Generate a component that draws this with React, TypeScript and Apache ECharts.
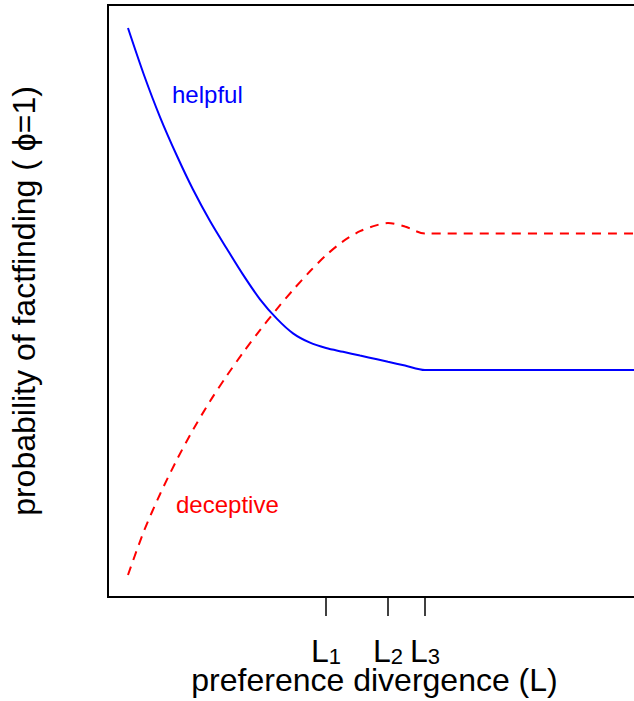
import React, { useEffect, useRef } from "react";
import * as echarts from "echarts";

// Preference divergence L (axis runs 0..100)
const divergence = [3.75, 6.75, 9.76, 12.95, 15.95, 19.14, 22.33, 25.33, 28.52, 31.71, 34.71, 37.9, 40.9, 44.09, 47.28, 50.47, 52.53, 55.72, 59.47, 100];
// Probability of fact-finding for the helpful (solid blue) curve
const helpful = [0.9611, 0.8818, 0.8108, 0.7449, 0.6883, 0.6351, 0.5878, 0.5446, 0.5029, 0.4698, 0.4454, 0.4296, 0.4206, 0.4142, 0.4078, 0.4015, 0.3973, 0.3909, 0.3834, 0.3834];
// Probability of fact-finding for the deceptive (dashed red) curve
const deceptive = [0.0372, 0.1115, 0.1736, 0.2324, 0.2824, 0.3307, 0.3743, 0.4127, 0.4508, 0.4867, 0.5186, 0.5502, 0.5772, 0.6007, 0.6179, 0.6282, 0.6318, 0.6258, 0.614, 0.614];
// Threshold ticks L1, L2, L3
const thresholdValues = [40.9, 52.53, 59.47];
const thresholdSubscripts = ["1", "2", "3"];
const seriesNames = ["helpful", "deceptive"];
const xTitle = "preference divergence (L)";
const yTitle = "probability of factfinding ( \u03d5=1)";

const FONT = "'Liberation Sans', Arial, Helvetica, sans-serif";

export default function App() {
  const ref = useRef<HTMLDivElement>(null);
  useEffect(() => {
    const chart = echarts.init(ref.current!, null, { renderer: "svg" });
    const helpfulData = divergence.map((x, i) => [x, helpful[i]]);
    const deceptiveData = divergence.map((x, i) => [x, deceptive[i]]);
    chart.setOption({
      animation: false,
      grid: {
        left: 108,
        top: 5,
        width: 533,
        height: 592,
        show: true,
        borderColor: "#000",
        borderWidth: 2,
        backgroundColor: "transparent",
        containLabel: false,
        outerBoundsMode: "none",
      },
      xAxis: {
        type: "value",
        min: 0,
        max: 100,
        axisLine: { show: false },
        splitLine: { show: false },
        axisTick: {
          show: true,
          customValues: thresholdValues,
          length: 19,
          lineStyle: { color: "#000", width: 1.5 },
        },
        axisLabel: {
          show: true,
          customValues: thresholdValues,
          margin: 38,
          formatter: (v: number) => {
            let idx = 0;
            let best = Infinity;
            thresholdValues.forEach((t, i) => {
              if (Math.abs(t - v) < best) {
                best = Math.abs(t - v);
                idx = i;
              }
            });
            return `{l|L}{s|${thresholdSubscripts[idx]}}`;
          },
          rich: {
            l: { fontSize: 32, lineHeight: 32, fontFamily: FONT, color: "#000" },
            s: { fontSize: 22, lineHeight: 17, fontFamily: FONT, color: "#000", verticalAlign: "bottom" },
          },
        },
        name: xTitle,
        nameLocation: "middle",
        nameGap: 67,
        nameMoveOverlap: false,
        nameTextStyle: { fontSize: 32, lineHeight: 32, fontFamily: FONT, color: "#000" },
      },
      yAxis: {
        type: "value",
        min: 0,
        max: 1,
        axisLine: { show: false },
        axisTick: { show: false },
        axisLabel: { show: false },
        splitLine: { show: false },
        name: yTitle,
        nameLocation: "middle",
        nameRotate: 90,
        nameGap: 68,
        nameMoveOverlap: false,
        nameTextStyle: { fontSize: 32, lineHeight: 32, fontFamily: FONT, color: "#000" },
      },
      series: [
        {
          name: seriesNames[0],
          type: "line",
          data: helpfulData,
          smooth: 0.3,
          symbol: "none",
          lineStyle: { color: "#0000ff", width: 2 },
        },
        {
          name: seriesNames[1],
          type: "line",
          data: deceptiveData,
          smooth: 0.3,
          symbol: "none",
          lineStyle: { color: "#ff0000", width: 2, type: [9, 7] },
        },
      ],
      graphic: [
        {
          type: "text",
          style: {
            text: seriesNames[0],
            x: 172,
            y: 94.7,
            fill: "#0000ff",
            fontSize: 24,
            fontFamily: FONT,
            textAlign: "left",
            textVerticalAlign: "middle",
            align: "left",
            verticalAlign: "middle",
          },
        },
        {
          type: "text",
          style: {
            text: seriesNames[1],
            x: 176,
            y: 504.7,
            fill: "#ff0000",
            fontSize: 24,
            fontFamily: FONT,
            textAlign: "left",
            textVerticalAlign: "middle",
            align: "left",
            verticalAlign: "middle",
          },
        },
      ],
    });
    return () => chart.dispose();
  }, []);
  return (
    <div
      ref={ref}
      style={{ position: "absolute", left: 0, top: 0, width: 634, height: 701, background: "#fff" }}
    />
  );
}
